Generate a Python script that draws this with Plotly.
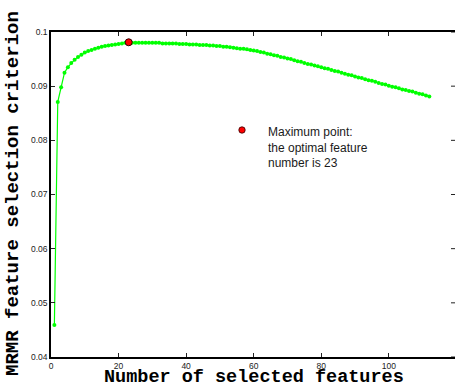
import plotly.graph_objects as go

n_features = list(range(1, 113))
criterion = [
    0.0459, 0.0871, 0.0898, 0.0925, 0.0935, 0.0943, 0.0949, 0.0954, 0.0958, 0.0962,
    0.0965, 0.0967, 0.0969, 0.0971, 0.0973, 0.0974, 0.0975, 0.0976, 0.0977, 0.0978,
    0.0979, 0.0980, 0.0981, 0.0980, 0.0980, 0.0980, 0.0980, 0.0980, 0.0980, 0.0980,
    0.0980, 0.0980, 0.0979, 0.0979, 0.0979, 0.0979, 0.0979, 0.0978, 0.0978, 0.0978,
    0.0977, 0.0977, 0.0977, 0.0976, 0.0976, 0.0976, 0.0975, 0.0975, 0.0974, 0.0974,
    0.0973, 0.0973, 0.0972, 0.0971, 0.0970, 0.0969, 0.0969, 0.0968, 0.0967, 0.0966,
    0.0965, 0.0963, 0.0962, 0.0960, 0.0959, 0.0957, 0.0956, 0.0954, 0.0953, 0.0951,
    0.0950, 0.0948, 0.0946, 0.0945, 0.0943, 0.0941, 0.0940, 0.0938, 0.0937, 0.0935,
    0.0933, 0.0932, 0.0930, 0.0928, 0.0927, 0.0925, 0.0923, 0.0921, 0.0920, 0.0918,
    0.0916, 0.0915, 0.0913, 0.0911, 0.0910, 0.0908, 0.0906, 0.0904, 0.0903, 0.0901,
    0.0899, 0.0898, 0.0896, 0.0894, 0.0893, 0.0891, 0.0890, 0.0888, 0.0886, 0.0885,
    0.0883, 0.0881,
]
best_n = 23
best_val = criterion[best_n - 1]

x_ticks = [0, 20, 40, 60, 80, 100]
y_ticks = [0.04, 0.05, 0.06, 0.07, 0.08, 0.09, 0.1]
y_ticktext = ["0.04", "0.05", "0.06", "0.07", "0.08", "0.09", "0.1"]

W, H = 455, 385
L, T, B = 51, 32, 28
PW = W - L
PH = H - T - B

fig = go.Figure()
fig.add_trace(go.Scatter(
    x=n_features, y=criterion, mode="lines+markers",
    line=dict(color="#00ff00", width=1.2),
    marker=dict(color="#00ff00", size=4, symbol="circle"),
    showlegend=False, hoverinfo="skip",
))
fig.add_trace(go.Scatter(
    x=[best_n], y=[best_val], mode="markers",
    marker=dict(color="#ff0000", size=7, line=dict(color="#300000", width=1)),
    showlegend=False, hoverinfo="skip",
))

tickfont = dict(family="Liberation Sans, Arial", size=8.5, color="#222222")
fig.update_xaxes(
    range=[0, 119.6], tickvals=x_ticks, ticks="inside", ticklen=4, tickwidth=1,
    tickcolor="#222", showline=True, linecolor="black", linewidth=1.6,
    mirror="ticks", showgrid=False, zeroline=False, tickfont=tickfont,
)
fig.update_yaxes(
    range=[0.04, 0.1], tickvals=y_ticks, ticktext=y_ticktext, ticks="inside",
    ticklen=4, tickwidth=1, tickcolor="#222", showline=True, linecolor="black",
    linewidth=1.6, mirror=False, showgrid=False, zeroline=False, tickfont=tickfont,
)

shapes = []
for v in y_ticks:
    shapes.append(dict(type="line", xref="paper", yref="y", x0=1 - 4 / PW, x1=1,
                       y0=v, y1=v, line=dict(color="#222", width=1)))
# legend dot
shapes.append(dict(type="circle", xref="paper", yref="paper", xsizemode="pixel",
                   ysizemode="pixel", xanchor=(242 - L) / PW, yanchor=(H - B - 130) / PH,
                   x0=-3.2, x1=3.2, y0=-3.2, y1=3.2, fillcolor="#ff0000",
                   line=dict(color="#300000", width=0.8)))

titlefont = dict(family="Liberation Mono, Courier New", size=19, color="black")
xtitlefont = dict(family="Liberation Mono, Courier New", size=18.5, color="black")
annotations = [
    dict(text="<b>Number of selected features</b>", xref="paper", yref="paper",
         x=(253.5 - L) / PW, y=(H - B - 377.5) / PH, xanchor="center", yanchor="middle",
         showarrow=False, font=xtitlefont, borderpad=0),
    dict(text="<b>MRMR feature selection criterion</b>", xref="paper", yref="paper",
         x=(13 - L) / PW, y=(H - B - 194) / PH, xanchor="center", yanchor="middle",
         textangle=-90, showarrow=False, font=titlefont),
    dict(text="Maximum point:<br>the optimal feature<br>number is 23", xref="paper",
         yref="paper", x=(266 - L) / PW, y=(H - B - 123) / PH, xanchor="left",
         yanchor="top", align="left", showarrow=False,
         font=dict(family="Liberation Sans, Arial", size=12, color="#1a1a1a")),
    dict(text="120", xref="x", yref="paper", x=120, y=0, yanchor="top", yshift=-1,
         showarrow=False, font=tickfont),
]

fig.update_layout(
    width=W, height=H, margin=dict(l=L, r=0, t=T, b=B, pad=0),
    paper_bgcolor="white", plot_bgcolor="white",
    shapes=shapes, annotations=annotations,
)

fig.write_html("out.html")
